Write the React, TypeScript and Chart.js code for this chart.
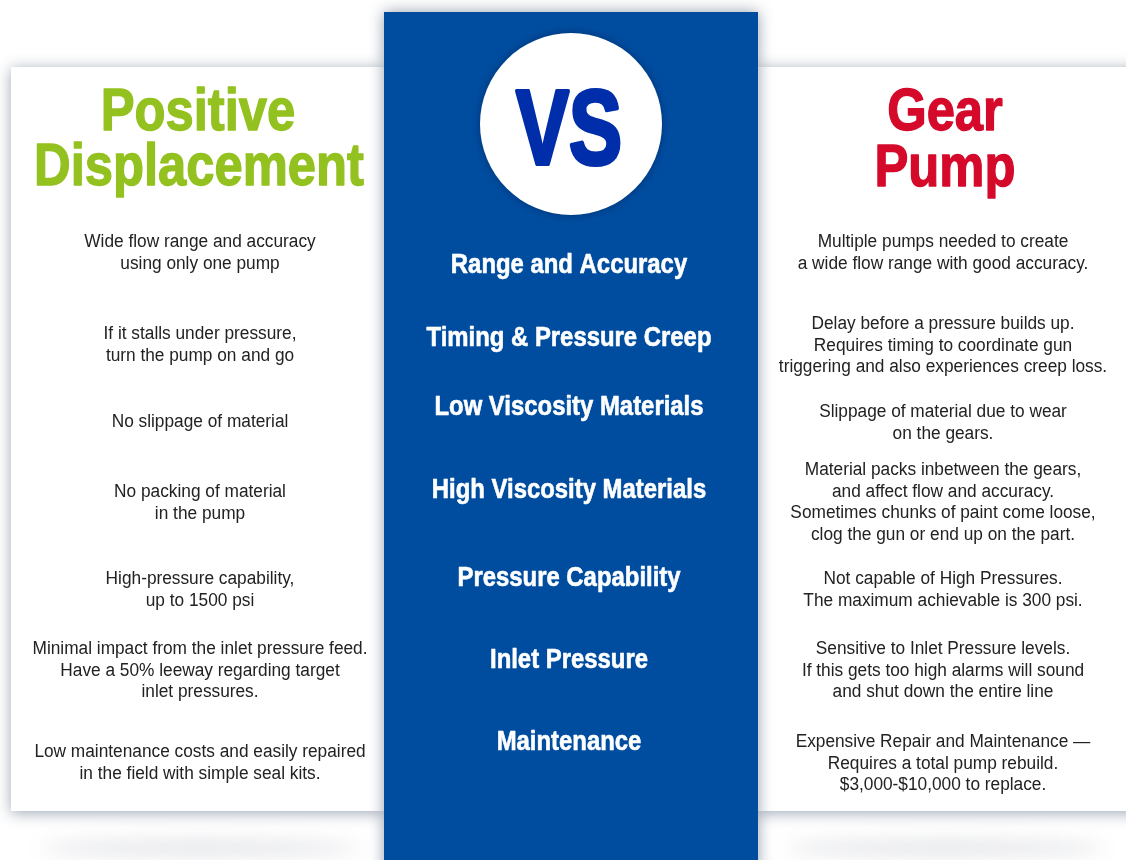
import React, { useEffect, useRef } from "react";
import { Chart, registerables } from "chart.js";

Chart.register(...registerables);

// ---- content ----
const leftTitle = ["Positive", "Displacement"];
const rightTitle = ["Gear", "Pump"];
const vsLabel = "VS";

const categories = [
  "Range and Accuracy",
  "Timing & Pressure Creep",
  "Low Viscosity Materials",
  "High Viscosity Materials",
  "Pressure Capability",
  "Inlet Pressure",
  "Maintenance",
];

const leftTexts: string[][] = [
  ["Wide flow range and accuracy", "using only one pump"],
  ["If it stalls under pressure,", "turn the pump on and go"],
  ["No slippage of material"],
  ["No packing of material", "in the pump"],
  ["High-pressure capability,", "up to 1500 psi"],
  ["Minimal impact from the inlet pressure feed.", "Have a 50% leeway regarding target", "inlet pressures."],
  ["Low maintenance costs and easily repaired", "in the field with simple seal kits."],
];

const rightTexts: string[][] = [
  ["Multiple pumps needed to create", "a wide flow range with good accuracy."],
  ["Delay before a pressure builds up.", "Requires timing to coordinate gun", "triggering and also experiences creep loss."],
  ["Slippage of material due to wear", "on the gears."],
  ["Material packs inbetween the gears,", "and affect flow and accuracy.", "Sometimes chunks of paint come loose,", "clog the gun or end up on the part."],
  ["Not capable of High Pressures.", "The maximum achievable is 300 psi."],
  ["Sensitive to Inlet Pressure levels.", "If this gets too high alarms will sound", "and shut down the entire line"],
  ["Expensive Repair and Maintenance \u2014", "Requires a total pump rebuild.", "$3,000-$10,000 to replace."],
];

// ---- layout (pixel space of the 1126x860 picture) ----
const W = 1126;
const H = 860;
const categoryY = [266, 339, 408, 491, 579, 661, 743];
const leftFirstY = [242, 334, 422, 492, 579, 649, 752];
const rightFirstY = [242, 324, 412, 470, 579, 649, 742];
const LINE_H = 21.7;

const GREEN = "#93c11f";
const RED = "#d50a2b";
const BLUE = "#004da0";
const VS_BLUE = "#002eaa";
const BODY = "#222222";
const FAMILY = '"Liberation Sans", Arial, sans-serif';

function condense(ctx: CanvasRenderingContext2D, font: string, ref: string, target: number) {
  ctx.save();
  ctx.font = font;
  const w = ctx.measureText(ref).width;
  ctx.restore();
  return target / w;
}

function drawText(
  ctx: CanvasRenderingContext2D,
  text: string,
  x: number,
  y: number,
  font: string,
  color: string,
  sx: number,
  baseline: CanvasTextBaseline = "middle",
  stroke = 0
) {
  ctx.save();
  ctx.font = font;
  ctx.fillStyle = color;
  ctx.textAlign = "center";
  ctx.textBaseline = baseline;
  ctx.translate(x, y);
  ctx.scale(sx, 1);
  ctx.fillText(text, 0, 0);
  if (stroke > 0) {
    ctx.strokeStyle = color;
    ctx.lineWidth = stroke;
    ctx.lineJoin = "round";
    ctx.strokeText(text, 0, 0);
  }
  ctx.restore();
}

const infographicPlugin = {
  id: "infographic",
  beforeDraw(chart: any) {
    const ctx: CanvasRenderingContext2D = chart.ctx;
    const xs = chart.scales.x;
    const ys = chart.scales.y;
    const X = (v: number) => xs.getPixelForValue(v);
    const Y = (v: number) => ys.getPixelForValue(v);

    ctx.save();
    ctx.fillStyle = "#ffffff";
    ctx.fillRect(0, 0, chart.width, chart.height);

    // bottom soft shadows
    ctx.save();
    ctx.filter = "blur(9px)";
    ctx.fillStyle = "rgba(70,80,100,0.13)";
    ctx.beginPath();
    ctx.ellipse(X(200), Y(848), 160, 9, 0, 0, Math.PI * 2);
    ctx.fill();
    ctx.beginPath();
    ctx.ellipse(X(945), Y(848), 160, 9, 0, 0, Math.PI * 2);
    ctx.fill();
    ctx.restore();

    // side panels
    ctx.save();
    ctx.shadowColor = "rgba(40,60,90,0.45)";
    ctx.shadowBlur = 14;
    ctx.shadowOffsetY = 2;
    ctx.fillStyle = "#ffffff";
    ctx.fillRect(X(11), Y(67), X(384) - X(11), Y(811) - Y(67));
    ctx.fillRect(X(758), Y(67), X(1150) - X(758), Y(811) - Y(67));
    ctx.restore();

    // center blue panel
    ctx.save();
    ctx.shadowColor = "rgba(20,40,70,0.45)";
    ctx.shadowBlur = 14;
    ctx.fillStyle = BLUE;
    ctx.fillRect(X(384), Y(12), X(758) - X(384), Y(880) - Y(12));
    ctx.restore();

    // VS circle
    ctx.save();
    ctx.shadowColor = "rgba(0,20,60,0.45)";
    ctx.shadowBlur = 8;
    ctx.fillStyle = "#ffffff";
    ctx.beginPath();
    ctx.arc(X(571), Y(124), 91, 0, Math.PI * 2);
    ctx.fill();
    ctx.restore();

    const vsFont = `bold 106px ${FAMILY}`;
    const vsSx = condense(ctx, vsFont, vsLabel, 106);
    drawText(ctx, vsLabel, X(569), Y(164), vsFont, VS_BLUE, vsSx, "alphabetic", 4);

    // titles
    const titleFont = `bold 60px ${FAMILY}`;
    const tSx = condense(ctx, titleFont, "Displacement", 330);
    drawText(ctx, leftTitle[0], X(198), Y(130), titleFont, GREEN, tSx, "alphabetic", 1.4);
    drawText(ctx, leftTitle[1], X(199), Y(185), titleFont, GREEN, tSx, "alphabetic", 1.4);
    drawText(ctx, rightTitle[0], X(945), Y(130), titleFont, RED, tSx, "alphabetic", 1.4);
    drawText(ctx, rightTitle[1], X(945), Y(186), titleFont, RED, tSx, "alphabetic", 1.4);

    // categories
    const catFont = `bold 27px ${FAMILY}`;
    const cSx = condense(ctx, catFont, "Timing & Pressure Creep", 285);
    categories.forEach((c, i) => {
      drawText(ctx, c, X(569), Y(categoryY[i]), catFont, "#ffffff", cSx, "middle", 0.6);
    });

    // body texts
    const bodyFont = `18px ${FAMILY}`;
    const bSx = condense(ctx, bodyFont, "Minimal impact from the inlet pressure feed.", 335);
    leftTexts.forEach((lines, i) => {
      lines.forEach((l, j) => {
        drawText(ctx, l, X(200), Y(leftFirstY[i] + j * LINE_H), bodyFont, BODY, bSx);
      });
    });
    rightTexts.forEach((lines, i) => {
      lines.forEach((l, j) => {
        drawText(ctx, l, X(943), Y(rightFirstY[i] + j * LINE_H), bodyFont, BODY, bSx);
      });
    });

    ctx.restore();
  },
};

export default function App() {
  const ref = useRef<HTMLCanvasElement | null>(null);

  useEffect(() => {
    document.body.style.margin = "0";
    if (!ref.current) return;
    const chart = new Chart(ref.current, {
      type: "scatter",
      data: { datasets: [] },
      options: {
        animation: false,
        responsive: false,
        layout: { padding: 0 },
        plugins: { legend: { display: false }, tooltip: { enabled: false } },
        scales: {
          x: { type: "linear", min: 0, max: W, display: false },
          y: { type: "linear", min: 0, max: H, reverse: true, display: false },
        },
      },
      plugins: [infographicPlugin],
    });
    return () => chart.destroy();
  }, []);

  return (
    <div style={{ width: W, height: H }}>
      <canvas ref={ref} width={W} height={H} style={{ display: "block" }} />
    </div>
  );
}
